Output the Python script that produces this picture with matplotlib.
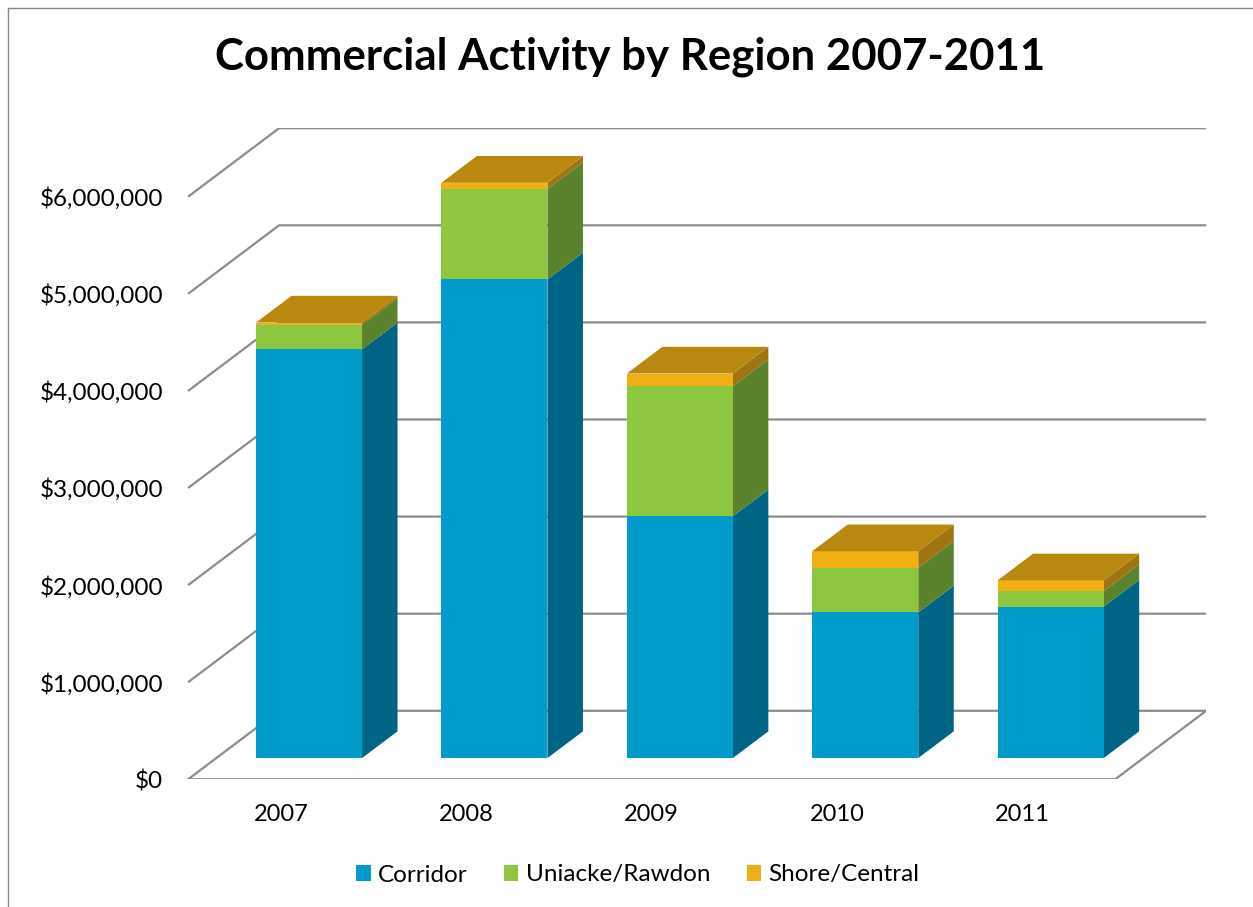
import matplotlib
matplotlib.use("Agg")
import matplotlib.pyplot as plt
from matplotlib.patches import Polygon, Patch
from matplotlib.lines import Line2D
import numpy as np

plt.rcParams['font.family'] = ['Lato', 'DejaVu Sans']

# ---- data -------------------------------------------------------------
years = ["2007", "2008", "2009", "2010", "2011"]
corridor = [4210000, 4930000, 2490000, 1500000, 1560000]
uniacke_rawdon = [250000, 930000, 1340000, 460000, 160000]
shore_central = [25000, 65000, 130000, 170000, 110000]
series_names = ["Corridor", "Uniacke/Rawdon", "Shore/Central"]
y_ticks = [0, 1000000, 2000000, 3000000, 4000000, 5000000, 6000000]
y_tick_labels = ["$0", "$1,000,000", "$2,000,000", "$3,000,000",
                 "$4,000,000", "$5,000,000", "$6,000,000"]
title = "Commercial Activity by Region 2007-2011"

# ---- styling ----------------------------------------------------------
front_colors = ["#009DCC", "#8DC63F", "#F0B013"]
side_colors = ["#006584", "#5B822C", "#9E7510"]
top_color = "#B8880F"
grid_color = "#8C8C8C"

W, H, DPI = 1253, 907, 100
fig = plt.figure(figsize=(W / DPI, H / DPI), dpi=DPI)

# axes box in pixels: left/right = floor front-left .. back-right,
# bottom/top = front floor edge .. top back gridline
px_left, px_right = 187.3, 1206.0
px_bottom, px_top = 779.3, 128.0
ax = fig.add_axes([px_left / W, (H - px_bottom) / H,
                   (px_right - px_left) / W, (px_bottom - px_top) / H])
ax.set_xlim(-0.5043, 4.990)
ax.set_ylim(0, 6707500)
for s in ax.spines.values():
    s.set_visible(False)

# oblique depth vector (full floor depth) in data units
DX = 0.4908
DY = 705500
d_front, d_back = 0.31, 0.70
dd = d_back - d_front

x0, x1 = -0.5, 4.5

# wall gridlines: left wall diagonal + back wall horizontal
for v in y_ticks:
    ax.plot([x0, x0 + DX, x1 + DX], [v, v + DY, v + DY],
            color=grid_color, lw=1.6, solid_capstyle='butt', zorder=1)
# floor outline
ax.plot([x0, x1, x1 + DX], [0, 0, DY], color=grid_color, lw=1.6, zorder=1)

# ---- bars -------------------------------------------------------------
x = np.arange(len(years))
bar_w = 0.572
xc = x + d_front * DX
base = d_front * DY
stack = [np.array(corridor), np.array(uniacke_rawdon), np.array(shore_central)]
bottom = np.zeros(len(years))
for vals, fc, sc in zip(stack, front_colors, side_colors):
    ax.bar(xc, vals, width=bar_w, bottom=base + bottom, color=fc,
           linewidth=0, zorder=3)
    for i in range(len(years)):
        xr = xc[i] + bar_w / 2
        yb = base + bottom[i]
        yt = yb + vals[i]
        side = Polygon([(xr, yb), (xr + dd * DX, yb + dd * DY),
                        (xr + dd * DX, yt + dd * DY), (xr, yt)],
                       closed=True, facecolor=sc, edgecolor='none', zorder=2.5)
        ax.add_patch(side)
    bottom = bottom + vals

for i in range(len(years)):
    xl = xc[i] - bar_w / 2
    xr = xc[i] + bar_w / 2
    yt = base + bottom[i]
    top = Polygon([(xl, yt), (xr, yt), (xr + dd * DX, yt + dd * DY),
                   (xl + dd * DX, yt + dd * DY)],
                  closed=True, facecolor=top_color, edgecolor='none', zorder=3.5)
    ax.add_patch(top)

# ---- axes text --------------------------------------------------------
ax.set_yticks(y_ticks)
ax.set_yticklabels(y_tick_labels)
ax.set_xticks(x)
ax.set_xticklabels(years)
ax.tick_params(axis='y', length=0, pad=17.3, labelsize=17.5)
ax.tick_params(axis='x', length=0, pad=17.5, labelsize=17)

fig.text(0.503, (H - 69.3) / H, title, ha='center', va='baseline',
         fontsize=31.5, fontweight='bold')

handles = [Patch(facecolor=c, edgecolor='none') for c in front_colors]
fig.legend(handles, series_names, loc='center', bbox_to_anchor=(0.509, (H - 875) / H),
           ncol=3, frameon=False, fontsize=17.5, handlelength=0.6,
           handleheight=0.6, handletextpad=0.3, columnspacing=1.5)

# chart border (left and top edges)
fig.add_artist(Line2D([7.5 / W, 7.5 / W], [0, (H - 7.5) / H],
                      color="#878787", lw=1.0, transform=fig.transFigure))
fig.add_artist(Line2D([7.5 / W, 1], [(H - 7.5) / H, (H - 7.5) / H],
                      color="#878787", lw=1.0, transform=fig.transFigure))

fig.savefig("out.png", dpi=DPI, facecolor='white')
